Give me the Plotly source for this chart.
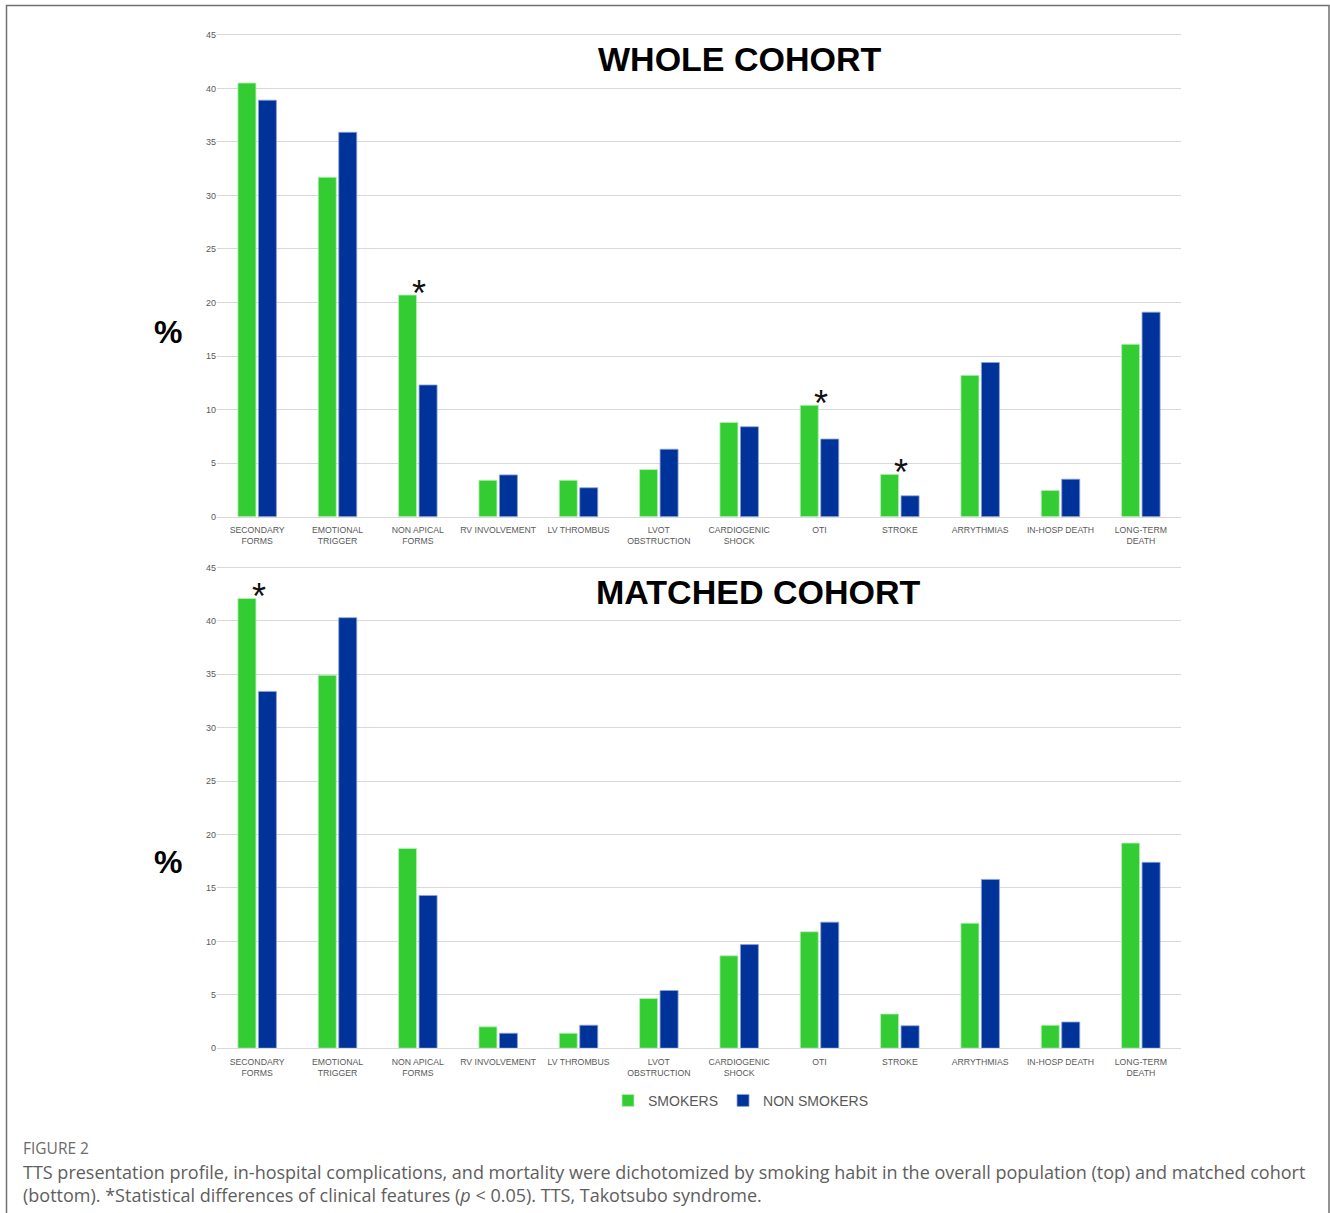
import plotly.graph_objects as go

W, H = 1330, 1213

categories = [
    "SECONDARY<br>FORMS", "EMOTIONAL<br>TRIGGER", "NON APICAL<br>FORMS", "RV INVOLVEMENT",
    "LV THROMBUS", "LVOT<br>OBSTRUCTION", "CARDIOGENIC<br>SHOCK", "OTI", "STROKE",
    "ARRYTHMIAS", "IN-HOSP DEATH", "LONG-TERM<br>DEATH",
]

# Whole cohort (%)
whole_smokers = [40.5, 31.7, 20.7, 3.4, 3.4, 4.4, 8.8, 10.4, 3.95, 13.2, 2.45, 16.1]
whole_non_smokers = [38.9, 35.9, 12.3, 3.9, 2.7, 6.3, 8.4, 7.25, 1.95, 14.4, 3.5, 19.1]
whole_significant = [False, False, True, False, False, False, False, True, True, False, False, False]

# Matched cohort (%)
matched_smokers = [42.1, 34.9, 18.7, 2.0, 1.4, 4.65, 8.65, 10.9, 3.2, 11.7, 2.15, 19.2]
matched_non_smokers = [33.4, 40.3, 14.3, 1.4, 2.15, 5.4, 9.7, 11.8, 2.1, 15.8, 2.45, 17.4]
matched_significant = [True, False, False, False, False, False, False, False, False, False, False, False]

y_ticks = [0, 5, 10, 15, 20, 25, 30, 35, 40, 45]

GREEN = "#33CC33"
BLUE = "#003399"
GRID = "#D9D9D9"
LABEL = "#595959"


def px_x(p):
    return p / W


def px_y(p):
    return 1 - p / H


fig = go.Figure()

# (axis suffix, smokers, non smokers, significance, title, plot top/bottom px, title x/y px, % y px)
panels = [
    ("", whole_smokers, whole_non_smokers, whole_significant, "WHOLE COHORT",
     (30, 516.5), 740, 55, 330.5),
    ("2", matched_smokers, matched_non_smokers, matched_significant, "MATCHED COHORT",
     (566.6, 1052), 758, 592, 864),
]

for i, (sfx, sm, ns, sig, title, (top, bottom), tx, ty, py) in enumerate(panels):
    xa, ya = "x" + sfx, "y" + sfx
    fig.add_trace(go.Bar(
        x=categories, y=sm, name="SMOKERS",
        marker=dict(color=GREEN, line=dict(color="#B9F0B9", width=0.8)),
        xaxis=xa, yaxis=ya, legendgroup="s", showlegend=(i == 1),
    ))
    fig.add_trace(go.Bar(
        x=categories, y=ns, name="NON SMOKERS",
        marker=dict(color=BLUE, line=dict(color="#8FA3D6", width=0.8)),
        xaxis=xa, yaxis=ya, legendgroup="n", showlegend=(i == 1),
    ))
    # asterisks over significant differences
    for c, v, s in zip(categories, sm, sig):
        if s:
            fig.add_annotation(
                x=c, y=v, xref=xa, yref=ya, text="*", showarrow=False,
                font=dict(family="Liberation Sans", size=36, color="#111111"),
                xanchor="center", yanchor="bottom", xshift=1.5, yshift=-21,
            )
    # panel title and % label
    fig.add_annotation(
        x=px_x(tx), y=px_y(ty), xref="paper", yref="paper", text="<b>%s</b>" % title,
        showarrow=False, font=dict(family="Liberation Sans", size=34, color="#000000"),
        xanchor="center", yanchor="middle",
    )
    fig.add_annotation(
        x=px_x(168), y=px_y(py), xref="paper", yref="paper", text="<b>%</b>",
        showarrow=False, font=dict(family="Liberation Sans", size=32, color="#000000"),
        xanchor="center", yanchor="middle",
    )
    axis_x = dict(
        domain=[px_x(217), px_x(1181)],
        tickfont=dict(family="Liberation Sans", size=8.7, color=LABEL),
        showline=True, linecolor=GRID, linewidth=1, ticks="", tickangle=0, anchor=ya,
        ticklabelstandoff=5,
    )
    axis_y = dict(
        domain=[px_y(bottom), px_y(top)], range=[0, 45.1], tickvals=y_ticks,
        tickfont=dict(family="Liberation Sans", size=9, color=LABEL),
        showgrid=True, gridcolor=GRID, gridwidth=1, zeroline=False, ticks="", ticklen=0,
        anchor=xa,
    )
    fig.update_layout(**{"xaxis" + sfx: axis_x, "yaxis" + sfx: axis_y})

# figure frame
fig.add_shape(type="rect", xref="paper", yref="paper",
              x0=px_x(6.5), x1=px_x(1329), y0=px_y(1230), y1=px_y(1.5),
              line=dict(color="#707070", width=1.5), fillcolor="rgba(0,0,0,0)")

# caption
fig.add_annotation(
    x=px_x(21), y=px_y(1153), xref="paper", yref="paper", text="FIGURE 2", showarrow=False,
    font=dict(family="Open Sans", size=15.5, color="#6B6B6B"), xanchor="left", yanchor="middle",
)
fig.add_annotation(
    x=px_x(21), y=px_y(1188), xref="paper", yref="paper",
    text=("TTS presentation profile, in-hospital complications, and mortality were dichotomized by smoking habit "
          "in the overall population (top) and matched cohort<br>(bottom). *Statistical differences of clinical "
          "features (<i>p</i> < 0.05). TTS, Takotsubo syndrome."),
    showarrow=False, align="left", font=dict(family="Open Sans", size=18, color="#5E5E5E"),
    xanchor="left", yanchor="middle",
)

fig.update_layout(
    width=W, height=H, margin=dict(l=0, r=0, t=0, b=0),
    paper_bgcolor="white", plot_bgcolor="white",
    barmode="group", bargap=0.49, bargroupgap=0.12,
    legend=dict(orientation="h", x=px_x(741), y=px_y(1105), xanchor="center", yanchor="middle",
                font=dict(family="Liberation Sans", size=14, color=LABEL), itemwidth=30,
                traceorder="normal"),
    showlegend=True,
)

fig.write_html("out.html")
